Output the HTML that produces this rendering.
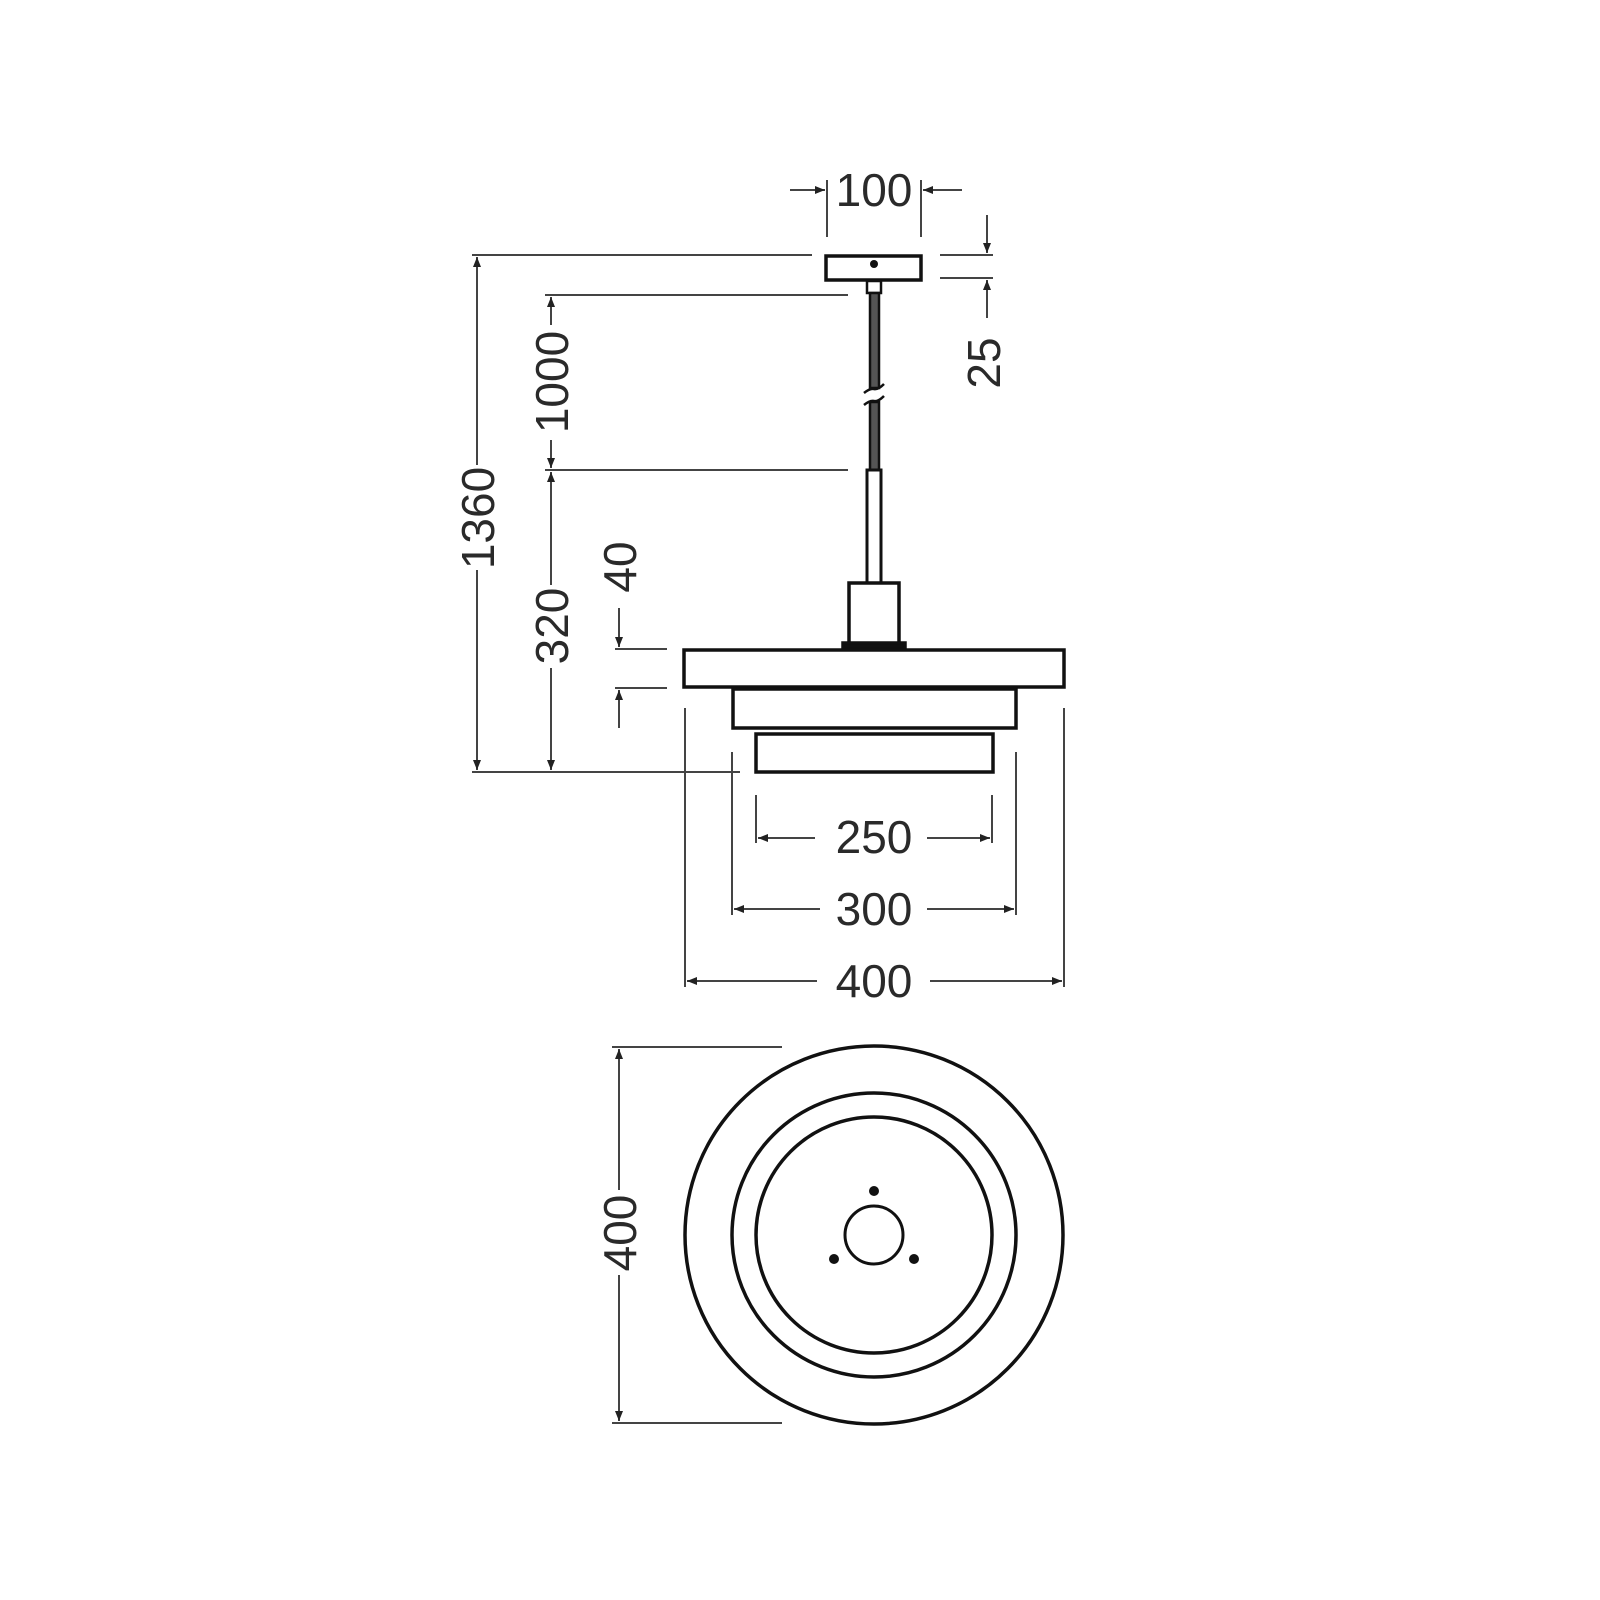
<!DOCTYPE html>
<html><head><meta charset="utf-8"><style>
html,body{margin:0;padding:0;background:#fff;}
svg{display:block;}
text{font-family:"Liberation Sans",sans-serif;font-size:46px;fill:#2a2a2a;}
</style></head><body>
<svg width="1600" height="1600" viewBox="0 0 1600 1600" xmlns="http://www.w3.org/2000/svg">
<defs>
<marker id="a" viewBox="0 0 10 8" refX="10" refY="4" markerWidth="10" markerHeight="8" orient="auto" markerUnits="userSpaceOnUse">
<path d="M0,0 L10,4 L0,8 Z" fill="#222"/></marker>
</defs>
<g stroke="#444" stroke-width="2" fill="none">
<!-- 100 dim -->
<line x1="827" y1="180" x2="827" y2="237"/>
<line x1="921" y1="180" x2="921" y2="237"/>
<line x1="790" y1="190" x2="825" y2="190" marker-end="url(#a)"/>
<line x1="962" y1="190" x2="923" y2="190" marker-end="url(#a)"/>
<!-- 25 dim -->
<line x1="940" y1="255" x2="993" y2="255"/>
<line x1="940" y1="278" x2="993" y2="278"/>
<line x1="987" y1="215" x2="987" y2="253" marker-end="url(#a)"/>
<line x1="987" y1="318" x2="987" y2="280" marker-end="url(#a)"/>
<!-- 1360 -->
<line x1="472" y1="255" x2="812" y2="255"/>
<line x1="472" y1="772" x2="740" y2="772"/>
<line x1="477" y1="465" x2="477" y2="257" marker-end="url(#a)"/>
<line x1="477" y1="570" x2="477" y2="770" marker-end="url(#a)"/>
<!-- 1000 -->
<line x1="545" y1="295" x2="848" y2="295"/>
<line x1="545" y1="470" x2="848" y2="470"/>
<line x1="551" y1="325" x2="551" y2="297" marker-end="url(#a)"/>
<line x1="551" y1="440" x2="551" y2="468" marker-end="url(#a)"/>
<!-- 320 -->
<line x1="551" y1="585" x2="551" y2="472" marker-end="url(#a)"/>
<line x1="551" y1="668" x2="551" y2="770" marker-end="url(#a)"/>
<!-- 40 -->
<line x1="615" y1="649" x2="667" y2="649"/>
<line x1="615" y1="688" x2="667" y2="688"/>
<line x1="619" y1="608" x2="619" y2="647" marker-end="url(#a)"/>
<line x1="619" y1="728" x2="619" y2="690" marker-end="url(#a)"/>
<!-- width ext lines -->
<line x1="685" y1="708" x2="685" y2="987"/>
<line x1="1064" y1="708" x2="1064" y2="987"/>
<line x1="732" y1="752" x2="732" y2="915"/>
<line x1="1016" y1="752" x2="1016" y2="915"/>
<line x1="756" y1="795" x2="756" y2="843"/>
<line x1="992" y1="795" x2="992" y2="843"/>
<line x1="815" y1="838" x2="758" y2="838" marker-end="url(#a)"/>
<line x1="927" y1="838" x2="990" y2="838" marker-end="url(#a)"/>
<line x1="820" y1="909" x2="734" y2="909" marker-end="url(#a)"/>
<line x1="927" y1="909" x2="1014" y2="909" marker-end="url(#a)"/>
<line x1="817" y1="981" x2="687" y2="981" marker-end="url(#a)"/>
<line x1="930" y1="981" x2="1062" y2="981" marker-end="url(#a)"/>
<!-- top view 400 -->
<line x1="612" y1="1047" x2="782" y2="1047"/>
<line x1="612" y1="1423" x2="782" y2="1423"/>
<line x1="619" y1="1190" x2="619" y2="1049" marker-end="url(#a)"/>
<line x1="619" y1="1275" x2="619" y2="1421" marker-end="url(#a)"/>
</g>
<!-- luminaire side -->
<g stroke="#111" stroke-width="3.5" fill="#fff">
<rect x="826" y="256" width="95" height="24"/>
<rect x="867" y="281" width="14" height="12" stroke-width="2.5"/>
<rect x="870" y="293" width="9" height="95" fill="#555" stroke-width="2.5"/>
<rect x="870" y="402" width="9" height="68" fill="#555" stroke-width="2.5"/>
<rect x="867" y="470" width="14" height="113" stroke-width="3"/>
<rect x="849" y="583" width="50" height="61"/>
<rect x="843" y="643" width="62" height="6" fill="#111"/>
<rect x="684" y="650" width="380" height="37"/>
<rect x="733" y="689" width="283" height="39"/>
<rect x="756" y="734" width="237" height="38"/>
</g>
<circle cx="874" cy="264" r="4" fill="#111"/>
<g stroke="#111" stroke-width="2.5" fill="none">
<path d="M864,393 Q870,388 874,389 Q878,390 884,384"/>
<path d="M864,405 Q870,400 874,401 Q878,402 884,396"/>
</g>
<!-- top view -->
<g stroke="#111" stroke-width="3.5" fill="none">
<circle cx="874" cy="1235" r="189"/>
<circle cx="874" cy="1235" r="142"/>
<circle cx="874" cy="1235" r="118"/>
<circle cx="874" cy="1235" r="29" stroke-width="3"/>
</g>
<g fill="#111">
<circle cx="874" cy="1191" r="5"/>
<circle cx="834" cy="1259" r="5"/>
<circle cx="914" cy="1259" r="5"/>
</g>
<!-- labels -->
<text x="874" y="206" text-anchor="middle">100</text>
<text x="874" y="853" text-anchor="middle">250</text>
<text x="874" y="925" text-anchor="middle">300</text>
<text x="874" y="997" text-anchor="middle">400</text>
<text transform="translate(1000,363) rotate(-90)" text-anchor="middle">25</text>
<text transform="translate(494,518) rotate(-90)" text-anchor="middle">1360</text>
<text transform="translate(568,382) rotate(-90)" text-anchor="middle">1000</text>
<text transform="translate(568,626) rotate(-90)" text-anchor="middle">320</text>
<text transform="translate(636,567) rotate(-90)" text-anchor="middle">40</text>
<text transform="translate(636,1233) rotate(-90)" text-anchor="middle">400</text>
</svg>
</body></html>
